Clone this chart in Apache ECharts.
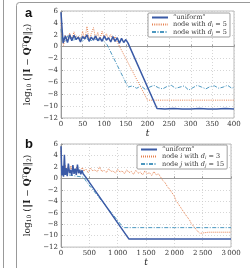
<!DOCTYPE html>
<html>
<head>
<meta charset="utf-8">
<script src="https://cdn.jsdelivr.net/npm/echarts@6/dist/echarts.min.js"></script>
<style>
html,body{margin:0;padding:0;background:#fff;}
#main{width:250px;height:268px;}
</style>
</head>
<body>
<div id="main"></div>
<script>
// panel a : t 0..400
var aUniT = [0,3,5,10,15,20,25,30,35,40,45,50,55,60,65,70,75,80,85,90,95,100,105,110,115,120,125,130,135,140,145,150,155,222,240,260,280,300,320,340,360,380,400];
var aUniV = [5.8,2.5,0.6,1.8,0.7,2.0,1.0,1.9,1.2,1.6,0.8,1.7,1.3,2.0,0.9,1.6,1.1,1.8,1.0,1.5,0.9,1.8,1.1,1.5,0.8,1.7,0.9,1.5,0.6,1.4,0.7,1.2,0.6,-10.4,-10.5,-10.4,-10.5,-10.5,-10.4,-10.5,-10.5,-10.4,-10.5];
var aIT = [0,3,6,10,15,20,25,30,35,40,45,50,55,60,65,70,75,80,85,90,95,100,105,110,115,120,125,130,200,400];
var aIV = [4.0,1.5,0.2,1.9,1.0,2.3,1.2,2.5,1.3,1.8,1.0,2.6,1.2,3.4,1.1,2.2,3.2,1.4,2.4,1.2,2.6,1.5,2.2,1.3,2.0,1.1,1.7,0.8,-9.0,-9.0];
var aJT = [0,3,6,10,15,20,25,30,35,40,45,50,55,60,65,70,75,80,85,90,95,100,106,155,165,175,185,195,205,215,225,235,245,255,265,275,285,295,305,315,325,335,345,355,365,375,385,395,400];
var aJV = [3.0,0.8,1.5,0.9,1.8,1.2,1.6,1.0,1.7,1.3,1.5,0.9,1.6,1.2,1.4,1.0,1.5,1.2,1.3,0.9,1.2,0.8,0.4,-6.8,-6.6,-7.0,-6.6,-7.2,-6.8,-6.5,-6.9,-7.1,-6.7,-6.5,-7.0,-6.8,-6.6,-7.3,-6.9,-6.5,-6.8,-7.1,-6.7,-6.6,-7.0,-6.8,-6.5,-7.0,-6.8];

// panel b : t 0..3000
var bUniT = [0,15,30,45,60,75,90,110,130,150,170,190,210,230,250,270,290,310,330,350,370,390,410,430,1200,1500,2000,2500,3000];
var bUniV = [5.6,0.5,2.2,0.3,4.1,0.6,1.8,0.4,2.6,0.9,1.5,0.5,2.3,0.8,1.7,0.6,2.4,0.9,1.5,0.7,1.4,0.8,0.9,0.3,-10.6,-10.6,-10.6,-10.6,-10.6];
var bIT = [0,15,30,50,75,100,125,150,175,200,225,250,275,300,325,350,375,400,440,480,520,560,600,640,680,720,760,800,840,880,920,960,1000,1040,1080,1120,1160,1200,1240,1280,1320,1360,1400,1440,1480,1520,1560,1600,1640,1680,1720,1760,1800,1840,1880,1920,1950,1980,2000,2030,2060,2090,2120,2150,2180,2210,2240,2270,2300,2330,2360,2390,2420,2450,2480,2600,2800,3000];
var bIV = [4.8,1.2,2.0,1.0,2.3,1.4,1.8,1.1,2.2,1.3,1.7,1.0,2.0,1.4,1.6,1.1,1.9,1.3,1.6,1.0,1.8,1.3,1.5,1.1,2.0,1.2,1.4,1.0,1.7,1.2,1.3,0.9,1.6,1.1,1.3,0.8,1.5,1.0,1.2,0.7,1.4,0.9,1.1,0.6,1.3,0.8,1.0,0.5,1.2,0.6,0.8,0.2,-0.4,-0.8,-1.5,-1.9,-2.4,-2.6,-3.1,-3.9,-4.3,-4.6,-5.2,-5.5,-6.1,-6.4,-6.9,-7.3,-7.9,-8.2,-8.6,-9.0,-9.3,-9.6,-9.4,-9.4,-9.4,-9.4];
var bJT = [0,400,450,1100,1500,2000,2500,3000];
var bJV = [0.8,0.2,-0.6,-8.6,-8.6,-8.6,-8.6,-8.6];

var xTicksB = ['0','500','1\u2009000','1\u2009500','2\u2009000','2\u2009500','3\u2009000'];

function pairs(t, v) {
    var out = [];
    for (var i = 0; i < t.length; i++) out.push([t[i], v[i]]);
    return out;
}

var blue = '#3a5aa6', orange = '#e5804f', teal = '#4c97bf';
var serif = 'DejaVu Serif';
var legendRich = {
    t: {fontFamily: serif, fontSize: 6.5, color: '#333'},
    it: {fontFamily: serif, fontSize: 6.5, fontStyle: 'italic', color: '#333'},
    s: {fontFamily: serif, fontSize: 4.5, fontStyle: 'italic', color: '#333', verticalAlign: 'bottom', padding: [3, 0, 0, 0]}
};
var legendText = {
    'aU': '{t|\u201cuniform\u201d}',
    'aI': '{t|node with }{it|d}{s|i}{t| = 5}',
    'aJ': '{t|node with }{it|d}{s|j}{t| = 5}',
    'bU': '{t|\u201cuniform\u201d}',
    'bI': '{t|node }{it|i}{t| with }{it|d}{s|i}{t| = 3}',
    'bJ': '{t|node }{it|j}{t| with }{it|d}{s|j}{t| = 15}'
};

function yAxis(idx) {
    return {
        gridIndex: idx, type: 'value', min: -12, max: 6, interval: 2,
        name: '{l|log}{s|10}{l| (\u2016}{b|I}{l| \u2212 }{b|Q}{p|T}{b|Q}{l|\u2016}{s|2}{l|)}',
        nameLocation: 'middle', nameGap: 19, nameRotate: 90,
        nameTextStyle: {rich: {
            l: {fontFamily: serif, fontSize: 9, color: '#222'},
            b: {fontFamily: serif, fontSize: 9, fontWeight: 'bold', color: '#222'},
            s: {fontFamily: serif, fontSize: 6, color: '#222', verticalAlign: 'bottom', padding: [4, 0, 0, 0]},
            p: {fontFamily: serif, fontSize: 6, color: '#222', verticalAlign: 'top', padding: [0, 0, 4, 0]}
        }},
        axisLine: {show: true, lineStyle: {color: '#999', width: 1}},
        axisTick: {show: true, inside: true, length: 2, lineStyle: {color: '#999'}},
        splitLine: {show: true, lineStyle: {color: '#ccc', type: [1, 2], width: 0.8}},
        axisLabel: {fontFamily: serif, fontSize: 7, color: '#333', margin: 3,
            formatter: function (v) { return String(v).replace('-', '\u2212'); }}
    };
}
function xAxis(idx, max, interval, fmt) {
    return {
        gridIndex: idx, type: 'value', min: 0, max: max, interval: interval,
        name: 't', nameLocation: 'middle', nameGap: 10,
        nameTextStyle: {fontFamily: serif, fontSize: 9, fontStyle: 'italic', color: '#222'},
        axisLine: {show: true, lineStyle: {color: '#999', width: 1}},
        axisTick: {show: true, inside: true, length: 2, lineStyle: {color: '#999'}},
        splitLine: {show: true, lineStyle: {color: '#ccc', type: [1, 2], width: 0.8}},
        axisLabel: {fontFamily: serif, fontSize: 7, color: '#333', margin: 3, formatter: fmt}
    };
}
function line(name, xi, data, color, type, width) {
    return {
        name: name, type: 'line', xAxisIndex: xi, yAxisIndex: xi, data: data,
        symbol: 'none', silent: true, animation: false,
        lineStyle: {color: color, type: type, width: width}, itemStyle: {color: color}
    };
}
function legend(top, left, names) {
    return {
        top: top, left: left, orient: 'vertical', data: names,
        backgroundColor: '#fff', borderColor: '#888', borderWidth: 0.8, borderRadius: 1,
        padding: [1, 3, 1, 3], itemGap: 0, itemWidth: 16, itemHeight: 6,
        itemStyle: {opacity: 0},
        formatter: function (n) { return legendText[n]; },
        textStyle: {rich: legendRich, padding: [0, 0, 0, 0]},
        selectedMode: false
    };
}

var chart = echarts.init(document.getElementById('main'));
chart.setOption({
    animation: false,
    grid: [
        {left: 61, right: 16, top: 11, height: 107, show: true, borderColor: '#aaa', borderWidth: 0.8},
        {left: 61, right: 19, top: 144, height: 106, show: true, borderColor: '#aaa', borderWidth: 0.8}
    ],
    xAxis: [
        xAxis(0, 400, 50),
        xAxis(1, 3000, 500, function (v) { return xTicksB[v / 500]; })
    ],
    yAxis: [yAxis(0), yAxis(1)],
    legend: [
        legend(13, 148, ['aU', 'aI', 'aJ']),
        legend(145, 137, ['bU', 'bI', 'bJ'])
    ],
    graphic: [
        {type: 'line', shape: {x1: 3.5, y1: 0, x2: 3.5, y2: 268}, style: {stroke: '#999', lineWidth: 1}},
        {type: 'rect', shape: {x: 16.5, y: 2.5, width: 260, height: 300, r: 3}, style: {fill: 'none', stroke: '#999', lineWidth: 1}},
        {type: 'text', left: 25, top: 7, style: {text: 'a', font: 'bold 13px "Liberation Sans"', fill: '#111'}},
        {type: 'text', left: 25, top: 138, style: {text: 'b', font: 'bold 13px "Liberation Sans"', fill: '#111'}}
    ],
    series: [
        line('aJ', 0, pairs(aJT, aJV), teal, [4, 1.5, 1, 1.5], 1),
        line('aI', 0, pairs(aIT, aIV), orange, [1, 1.2], 1),
        line('aU', 0, pairs(aUniT, aUniV), blue, 'solid', 1.5),
        line('bI', 1, pairs(bIT, bIV), orange, [1, 1], 1),
        line('bJ', 1, pairs(bJT, bJV), teal, [4, 1.5, 1, 1.5], 1),
        line('bU', 1, pairs(bUniT, bUniV), blue, 'solid', 1.5)
    ]
});
</script>
</body>
</html>
